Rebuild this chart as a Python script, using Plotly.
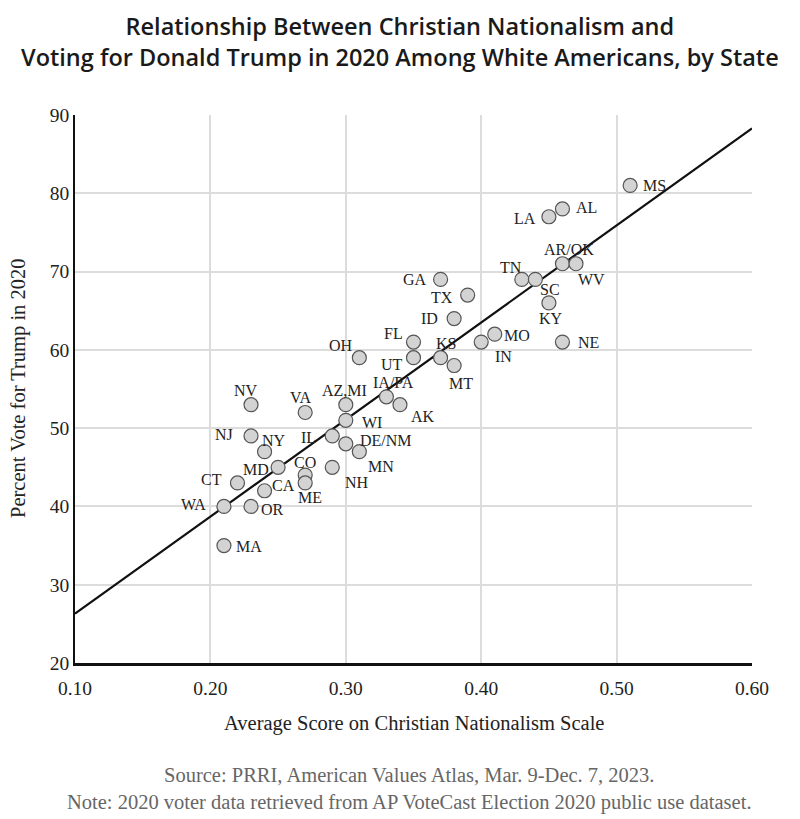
import plotly.graph_objects as go

states = ["MS","AL","LA","AR/OK","WV","TN","SC","KY","NE","MO","IN","GA","TX","ID","FL","KS","UT","MT","OH",
          "AZ,MI","IA/PA","AK","WI","DE/NM","IL","MN","NH","VA","NV","NJ","NY","MD","CO","ME","CA","CT","WA","OR","MA"]
cn_score = [0.51,0.46,0.45,0.46,0.47,0.43,0.44,0.45,0.46,0.41,0.40,0.37,0.39,0.38,0.35,0.37,0.35,0.38,0.31,
            0.30,0.33,0.34,0.30,0.30,0.29,0.31,0.29,0.27,0.23,0.23,0.24,0.25,0.27,0.27,0.24,0.22,0.21,0.23,0.21]
trump_vote = [81,78,77,71,71,69,69,66,61,62,61,69,67,64,61,59,59,58,59,
              53,54,53,51,48,49,47,45,52,53,49,47,45,44,43,42,43,40,40,35]

# label offsets in pixels (style, not data)
label_offsets = {
    "MS": (24, 0), "AL": (24, -1), "LA": (-24, 2), "AR/OK": (7, -14), "WV": (16, 16),
    "TN": (-11, -12), "SC": (15, 10), "KY": (2, 16), "NE": (26, 0), "MO": (22, 1),
    "IN": (22, 14), "GA": (-26, 0), "TX": (-26, 2), "ID": (-25, 0), "FL": (-20, -9),
    "KS": (5, -14), "UT": (-22, 7), "MT": (7, 18), "OH": (-18, -12), "AZ,MI": (-1, -14),
    "IA/PA": (7, -14), "AK": (23, 12), "WI": (26, 2), "DE/NM": (40, -3), "IL": (-24, 2),
    "MN": (22, 15), "NH": (25, 15), "VA": (-5, -15), "NV": (-5, -14), "NJ": (-27, -1),
    "NY": (9, -11), "MD": (-22, 2), "CO": (0, -13), "ME": (5, 15), "CA": (19, -5),
    "CT": (-26, -3), "WA": (-30, -2), "OR": (21, 3), "MA": (25, 1),
}

fit_x = [0.10, 0.60]
fit_y = [26.3, 88.3]

x_ticks = [0.10, 0.20, 0.30, 0.40, 0.50, 0.60]
x_tick_labels = ["0.10", "0.20", "0.30", "0.40", "0.50", "0.60"]
y_ticks = [20, 30, 40, 50, 60, 70, 80, 90]

serif = "Liberation Serif"
fig = go.Figure()
fig.add_trace(go.Scatter(x=fit_x, y=fit_y, mode="lines",
                         line=dict(color="#111111", width=2.2), hoverinfo="skip", showlegend=False))
fig.add_trace(go.Scatter(x=cn_score, y=trump_vote, mode="markers",
                         marker=dict(size=14, color="#d3d3d3", line=dict(color="#555555", width=1.2)),
                         text=states, showlegend=False))

for s, xv, yv in zip(states, cn_score, trump_vote):
    dx, dy = label_offsets[s]
    fig.add_annotation(x=xv, y=yv, text=s, showarrow=False, xshift=dx, yshift=-dy,
                       font=dict(family=serif, size=16, color="#222222"))

fig.add_annotation(xref="paper", yref="paper", x=0.5, y=1, xshift=-14, yshift=107, text=
                   "Relationship Between Christian Nationalism and<br>Voting for Donald Trump in 2020 Among White Americans, by State",
                   showarrow=False, xanchor="center", yanchor="top",
                   font=dict(family="Open Sans", size=23.5, color="#1a1a1a", weight=600))
fig.add_annotation(xref="paper", yref="paper", x=0.5, y=0, yshift=-99, xshift=-4, xanchor="center", yanchor="top",
                   showarrow=False,
                   text="Source: PRRI, American Values Atlas, Mar. 9-Dec. 7, 2023.<br>Note: 2020 voter data retrieved from AP VoteCast Election 2020 public use dataset.",
                   font=dict(family=serif, size=20.5, color="#666666"))
fig.add_annotation(xref="paper", yref="paper", x=0.5, y=0, yshift=-60, xanchor="center", yanchor="middle",
                   showarrow=False, text="Average Score on Christian Nationalism Scale",
                   font=dict(family=serif, size=20.5, color="#222222"))
fig.add_annotation(xref="paper", yref="paper", x=0, y=0.5, xshift=-57, xanchor="center", yanchor="middle",
                   showarrow=False, text="Percent Vote for Trump in 2020", textangle=-90,
                   font=dict(family=serif, size=20.5, color="#222222"))

fig.update_xaxes(range=[0.10, 0.60], tickvals=x_ticks, ticktext=x_tick_labels, automargin=False,
                 showgrid=True, gridcolor="#dcdcdc", gridwidth=2, zeroline=False,
                 showline=True, linecolor="#111111", linewidth=3, ticks="outside", ticklen=6, tickcolor="white",
                 tickfont=dict(family=serif, size=19.5, color="#222222"))
fig.update_yaxes(range=[20, 90], tickvals=y_ticks, automargin=False,
                 showgrid=True, gridcolor="#dcdcdc", gridwidth=2, zeroline=False,
                 showline=True, linecolor="#111111", linewidth=1.5, ticks="",
                 tickfont=dict(family=serif, size=19.5, color="#222222"))

fig.update_layout(width=792, height=811, plot_bgcolor="white", paper_bgcolor="white",
                  margin=dict(l=67, r=48, t=107, b=156), showlegend=False)
fig.write_html("out.html")
